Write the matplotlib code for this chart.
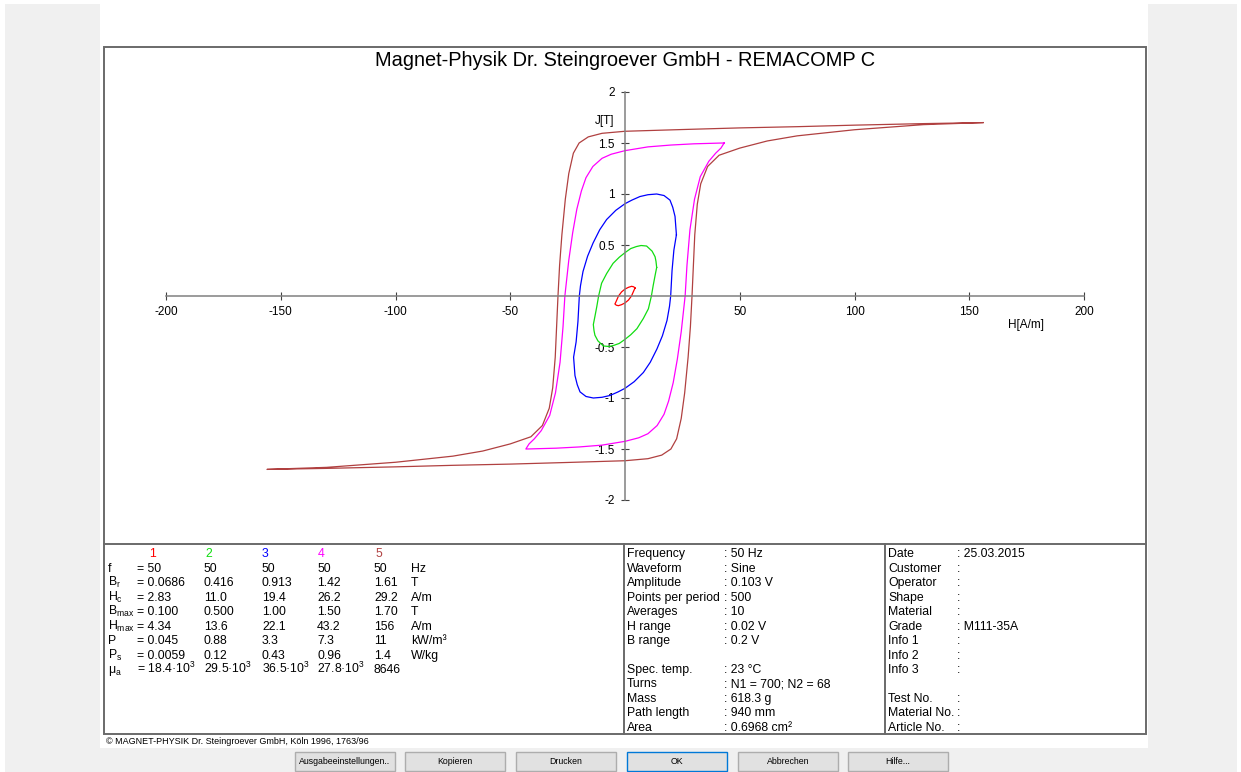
import numpy as np
import matplotlib.pyplot as plt
from matplotlib.patches import Rectangle

plt.rcParams['font.family'] = ['Liberation Sans', 'DejaVu Sans']

W, H = 1241, 772

# hysteresis loops: one half (H in A/m, J in T),
# other half follows from point symmetry of the loop
h1 = [4.4, 3.8, 2.9, 1.5, 0.0, -1.5, -2.83, -3.6, -4.2, -4.4]
j1 = [0.078, 0.09, 0.095, 0.085, 0.068, 0.04, 0.0, -0.04, -0.07, -0.078]

h2 = [13.8, 13.5, 13.1, 11.8, 9.4, 7.0, 5.0, 2.5, 0.0, -2.5, -5.2, -8.0, -10.2, -11.5, -12.3, -13.1, -13.8]
j2 = [0.28, 0.34, 0.385, 0.44, 0.49, 0.495, 0.485, 0.465, 0.425, 0.38, 0.32, 0.22, 0.125, 0.0, -0.105, -0.2, -0.28]

h3 = [22.4, 21.8, 20.8, 19.6, 17.0, 13.8, 10.0, 6.5, 3.0, 0.0, -4.0, -8.0, -11.0, -13.9, -16.3, -18.3, -19.4, -19.9, -20.5, -21.3, -22.4]
j3 = [0.60, 0.78, 0.87, 0.94, 0.985, 1.0, 0.993, 0.975, 0.94, 0.905, 0.84, 0.75, 0.65, 0.52, 0.39, 0.24, 0.10, 0.0, -0.25, -0.45, -0.60]

h4 = [43.2, 41, 38, 30, 20, 10, 0, -6, -10, -14, -17, -19, -21, -22.8, -24.5, -26.2, -27, -28.3, -30.3, -32.8, -36.5, -39.5, -41.8, -43.2]
j4 = [1.5, 1.499, 1.497, 1.492, 1.48, 1.462, 1.425, 1.39, 1.35, 1.27, 1.16, 1.03, 0.85, 0.62, 0.35, 0.0, -0.3, -0.65, -0.95, -1.17, -1.32, -1.40, -1.45, -1.5]

h5 = [156, 130, 100, 75, 50, 25, 0, -10, -16, -20, -22.5, -24.5, -26, -27.5, -28.5, -29.2,
      -29.8, -30.4, -31.5, -33, -36, -41, -50, -62, -75, -100, -130, -156]
j5 = [1.70, 1.69, 1.675, 1.66, 1.648, 1.632, 1.615, 1.595, 1.56, 1.50, 1.40, 1.20, 0.95, 0.60, 0.30, 0.0,
      -0.3, -0.6, -0.9, -1.1, -1.27, -1.38, -1.45, -1.52, -1.57, -1.63, -1.68, -1.70]

loops = [(h1, j1), (h2, j2), (h3, j3), (h4, j4), (h5, j5)]
colors = ['#ff0000', '#11dd11', '#0000ff', '#ff00ff', '#b04040']

xticks = [-200, -150, -100, -50, 50, 100, 150, 200]
yticks = [-2, -1.5, -1, -0.5, 0.5, 1, 1.5, 2]

# result table
col_ids = ['1', '2', '3', '4', '5']
row_names = ['f', 'B$_\\mathregular{r}$', 'H$_\\mathregular{c}$', 'B$_\\mathregular{max}$',
             'H$_\\mathregular{max}$', 'P', 'P$_\\mathregular{s}$', 'μ$_\\mathregular{a}$']
f_vals = ['50', '50', '50', '50', '50']
br_vals = ['0.0686', '0.416', '0.913', '1.42', '1.61']
hc_vals = ['2.83', '11.0', '19.4', '26.2', '29.2']
bmax_vals = ['0.100', '0.500', '1.00', '1.50', '1.70']
hmax_vals = ['4.34', '13.6', '22.1', '43.2', '156']
p_vals = ['0.045', '0.88', '3.3', '7.3', '11']
ps_vals = ['0.0059', '0.12', '0.43', '0.96', '1.4']
mua_vals = ['18.4·10$^\\mathregular{3}$', '29.5·10$^\\mathregular{3}$', '36.5·10$^\\mathregular{3}$',
            '27.8·10$^\\mathregular{3}$', '8646']
units = ['Hz', 'T', 'A/m', 'T', 'A/m', 'kW/m³', 'W/kg', '']
rows = [f_vals, br_vals, hc_vals, bmax_vals, hmax_vals, p_vals, ps_vals, mua_vals]

meas_labels = ['Frequency', 'Waveform', 'Amplitude', 'Points per period', 'Averages', 'H range', 'B range', '',
               'Spec. temp.', 'Turns', 'Mass', 'Path length', 'Area']
meas_values = ['50 Hz', 'Sine', '0.103 V', '500', '10', '0.02 V', '0.2 V', '',
               '23 °C', 'N1 = 700; N2 = 68', '618.3 g', '940 mm', '0.6968 cm²']
info_labels = ['Date', 'Customer', 'Operator', 'Shape', 'Material', 'Grade', 'Info 1', 'Info 2', 'Info 3', '',
               'Test No.', 'Material No.', 'Article No.']
info_values = ['25.03.2015', '', '', '', '', 'M111-35A', '', '', '', '', '', '', '']

buttons = ['Ausgabeeinstellungen..', 'Kopieren', 'Drucken', 'OK', 'Abbrechen', 'Hilfe...']

fig = plt.figure(figsize=(W / 100, H / 100), dpi=100, facecolor='white')

# background / dialog layer in pixel coords
ui = fig.add_axes([0, 0, 1, 1])
ui.set_xlim(0, W)
ui.set_ylim(H, 0)
ui.axis('off')
ui.add_patch(Rectangle((5, 4), 1232, 768, facecolor='#f0f0f0', edgecolor='none'))
ui.add_patch(Rectangle((100, 0), 1048, 748, facecolor='white', edgecolor='none'))
fc = '#6a6a6a'
ui.add_patch(Rectangle((104, 47), 1042, 687, facecolor='none', edgecolor=fc, lw=1.4))
ui.plot([104, 1146], [544, 544], color=fc, lw=1.4)
ui.plot([623.5, 623.5], [544, 734], color=fc, lw=1.4)
ui.plot([885, 885], [544, 734], color=fc, lw=1.4)

ui.text(625, 60, 'Magnet-Physik Dr. Steingroever GmbH - REMACOMP C', ha='center', va='center',
        fontsize=14.4, color='black')

fs = 8.8
y0, dy = 553, 14.45
bl = 4.4  # baseline offset from row centre
hdr_x = [149, 205, 262, 318, 375]
val_x = [137, 204, 262, 317, 374]
for k, cid in enumerate(col_ids):
    ui.text(hdr_x[k], y0 + bl, cid, color=colors[k], fontsize=fs, va='baseline')
for i, (name, vals) in enumerate(zip(row_names, rows)):
    y = y0 + (i + 1) * dy + bl
    ui.text(108, y, name, fontsize=fs, va='baseline')
    for k, v in enumerate(vals):
        ui.text(val_x[k], y, ('= ' + v) if k == 0 else v, fontsize=fs, va='baseline')
    ui.text(411, y, units[i], fontsize=fs, va='baseline')

for i, (lab, val) in enumerate(zip(meas_labels, meas_values)):
    if not lab:
        continue
    y = y0 + i * dy + bl
    ui.text(627, y, lab, fontsize=fs, va='baseline')
    ui.text(724, y, ': ' + val, fontsize=fs, va='baseline')

for i, (lab, val) in enumerate(zip(info_labels, info_values)):
    if not lab:
        continue
    y = y0 + i * dy + bl
    ui.text(888, y, lab, fontsize=fs, va='baseline')
    ui.text(957, y, ': ' + val, fontsize=fs, va='baseline')

ui.text(106, 741, '© MAGNET-PHYSIK Dr. Steingroever GmbH, Köln 1996, 1763/96', fontsize=6.5, va='center')

bx = [295, 405, 516, 627, 738, 848]
for k, lab in enumerate(buttons):
    ec = '#0078d7' if lab == 'OK' else '#adadad'
    ui.add_patch(Rectangle((bx[k], 752), 100, 19, facecolor='#e1e1e1', edgecolor=ec, lw=1))
    ui.text(bx[k] + 50, 761.5, lab, ha='center', va='center', fontsize=6.3)

# hysteresis plot
ax = fig.add_axes([166 / W, (H - 500) / H, 918 / W, 408 / H])
ax.patch.set_alpha(0)
for (hh, jj), c in zip(loops, colors):
    hh = np.array(hh)
    jj = np.array(jj)
    x = np.concatenate([hh, -hh, hh[:1]])
    y = np.concatenate([jj, -jj, jj[:1]])
    ax.plot(x, y, color=c, lw=0.9)

ax.set_xlim(-200, 200)
ax.set_ylim(-2, 2)
for s in ['top', 'right']:
    ax.spines[s].set_visible(False)
for s in ['left', 'bottom']:
    ax.spines[s].set_position('zero')
    ax.spines[s].set_color('#808080')
    ax.spines[s].set_linewidth(1.1)
ax.set_xticks(xticks)
ax.set_yticks(yticks)
ax.set_xticklabels([f'{t:g}' for t in xticks])
ax.set_yticklabels([f'{t:g}' for t in yticks])
ax.tick_params(direction='inout', length=6, width=0.8, color='#404040', labelsize=8.5, pad=4.5)
ax.text(-4.8, 1.716, 'J[T]', ha='right', va='center', fontsize=8.5)
ax.text(167, -0.284, 'H[A/m]', ha='left', va='center', fontsize=8.5)

fig.savefig('out.png', dpi=100, facecolor=fig.get_facecolor())
